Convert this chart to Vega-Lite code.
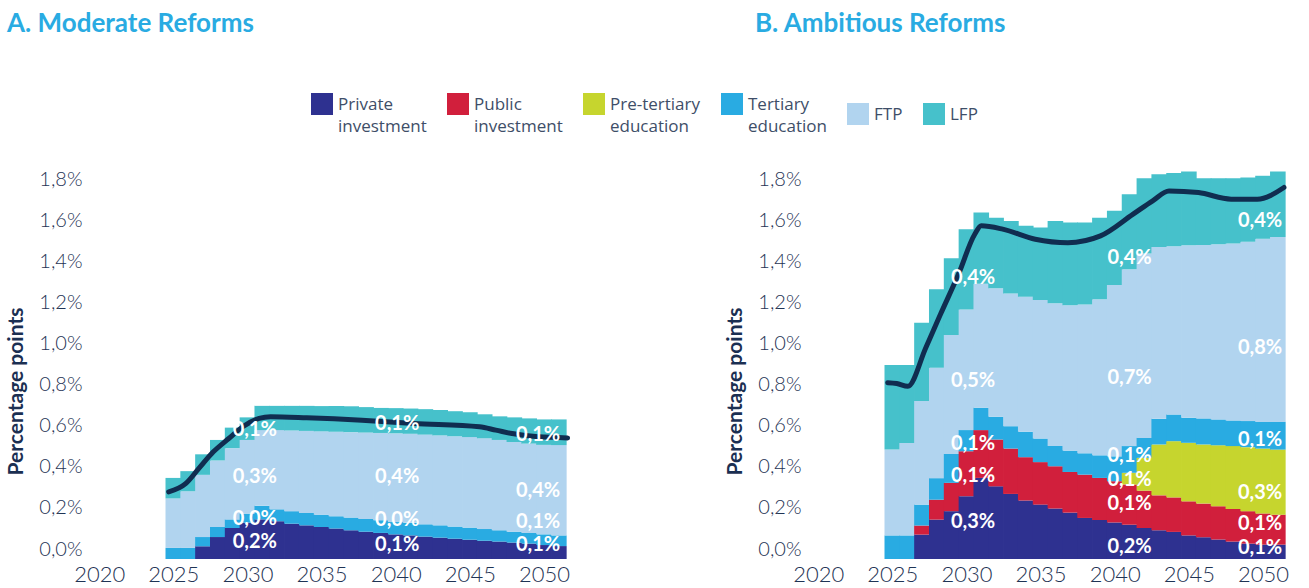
{
  "$schema": "https://vega.github.io/schema/vega-lite/v6.json",
  "padding": {"left": 5, "top": 11, "right": 5, "bottom": 0},
  "background": "white",
  "datasets": {
    "order": [
      {"series": "Private investment", "o": 1},
      {"series": "Public investment", "o": 2},
      {"series": "Pre-tertiary education", "o": 3},
      {"series": "Tertiary education", "o": 4},
      {"series": "FTP", "o": 5},
      {"series": "LFP", "o": 6}
    ],
    "barsA": [
      {"year": 2025, "Private investment": 0, "Public investment": 0, "Pre-tertiary education": 0, "Tertiary education": 0.054, "FTP": 0.241, "LFP": 0.100},
      {"year": 2026, "Private investment": 0, "Public investment": 0, "Pre-tertiary education": 0, "Tertiary education": 0.054, "FTP": 0.276, "LFP": 0.098},
      {"year": 2027, "Private investment": 0.062, "Public investment": 0, "Pre-tertiary education": 0, "Tertiary education": 0.045, "FTP": 0.303, "LFP": 0.100},
      {"year": 2028, "Private investment": 0.107, "Public investment": 0, "Pre-tertiary education": 0, "Tertiary education": 0.049, "FTP": 0.324, "LFP": 0.100},
      {"year": 2029, "Private investment": 0.151, "Public investment": 0, "Pre-tertiary education": 0, "Tertiary education": 0.042, "FTP": 0.347, "LFP": 0.100},
      {"year": 2030, "Private investment": 0.177, "Public investment": 0, "Pre-tertiary education": 0, "Tertiary education": 0.044, "FTP": 0.359, "LFP": 0.110},
      {"year": 2031, "Private investment": 0.193, "Public investment": 0, "Pre-tertiary education": 0, "Tertiary education": 0.066, "FTP": 0.369, "LFP": 0.118},
      {"year": 2032, "Private investment": 0.184, "Public investment": 0, "Pre-tertiary education": 0, "Tertiary education": 0.058, "FTP": 0.386, "LFP": 0.118},
      {"year": 2033, "Private investment": 0.172, "Public investment": 0, "Pre-tertiary education": 0, "Tertiary education": 0.061, "FTP": 0.393, "LFP": 0.120},
      {"year": 2034, "Private investment": 0.164, "Public investment": 0, "Pre-tertiary education": 0, "Tertiary education": 0.060, "FTP": 0.400, "LFP": 0.122},
      {"year": 2035, "Private investment": 0.156, "Public investment": 0, "Pre-tertiary education": 0, "Tertiary education": 0.060, "FTP": 0.406, "LFP": 0.123},
      {"year": 2036, "Private investment": 0.148, "Public investment": 0, "Pre-tertiary education": 0, "Tertiary education": 0.060, "FTP": 0.412, "LFP": 0.125},
      {"year": 2037, "Private investment": 0.140, "Public investment": 0, "Pre-tertiary education": 0, "Tertiary education": 0.062, "FTP": 0.416, "LFP": 0.126},
      {"year": 2038, "Private investment": 0.133, "Public investment": 0, "Pre-tertiary education": 0, "Tertiary education": 0.062, "FTP": 0.421, "LFP": 0.124},
      {"year": 2039, "Private investment": 0.127, "Public investment": 0, "Pre-tertiary education": 0, "Tertiary education": 0.062, "FTP": 0.425, "LFP": 0.122},
      {"year": 2040, "Private investment": 0.120, "Public investment": 0, "Pre-tertiary education": 0, "Tertiary education": 0.060, "FTP": 0.432, "LFP": 0.123},
      {"year": 2041, "Private investment": 0.115, "Public investment": 0, "Pre-tertiary education": 0, "Tertiary education": 0.061, "FTP": 0.434, "LFP": 0.123},
      {"year": 2042, "Private investment": 0.109, "Public investment": 0, "Pre-tertiary education": 0, "Tertiary education": 0.060, "FTP": 0.437, "LFP": 0.124},
      {"year": 2043, "Private investment": 0.104, "Public investment": 0, "Pre-tertiary education": 0, "Tertiary education": 0.060, "FTP": 0.438, "LFP": 0.124},
      {"year": 2044, "Private investment": 0.099, "Public investment": 0, "Pre-tertiary education": 0, "Tertiary education": 0.059, "FTP": 0.440, "LFP": 0.122},
      {"year": 2045, "Private investment": 0.094, "Public investment": 0, "Pre-tertiary education": 0, "Tertiary education": 0.059, "FTP": 0.441, "LFP": 0.121},
      {"year": 2046, "Private investment": 0.089, "Public investment": 0, "Pre-tertiary education": 0, "Tertiary education": 0.057, "FTP": 0.442, "LFP": 0.117},
      {"year": 2047, "Private investment": 0.085, "Public investment": 0, "Pre-tertiary education": 0, "Tertiary education": 0.055, "FTP": 0.440, "LFP": 0.115},
      {"year": 2048, "Private investment": 0.080, "Public investment": 0, "Pre-tertiary education": 0, "Tertiary education": 0.053, "FTP": 0.437, "LFP": 0.120},
      {"year": 2049, "Private investment": 0.075, "Public investment": 0, "Pre-tertiary education": 0, "Tertiary education": 0.052, "FTP": 0.435, "LFP": 0.123},
      {"year": 2050, "Private investment": 0.068, "Public investment": 0, "Pre-tertiary education": 0, "Tertiary education": 0.052, "FTP": 0.436, "LFP": 0.124},
      {"year": 2051, "Private investment": 0.063, "Public investment": 0, "Pre-tertiary education": 0, "Tertiary education": 0.052, "FTP": 0.440, "LFP": 0.125}
    ],
    "barsB": [
      {"year": 2025, "Private investment": 0, "Public investment": 0, "Pre-tertiary education": 0, "Tertiary education": 0.115, "FTP": 0.418, "LFP": 0.412},
      {"year": 2026, "Private investment": 0, "Public investment": 0, "Pre-tertiary education": 0, "Tertiary education": 0.115, "FTP": 0.450, "LFP": 0.380},
      {"year": 2027, "Private investment": 0.119, "Public investment": 0.044, "Pre-tertiary education": 0, "Tertiary education": 0.102, "FTP": 0.505, "LFP": 0.381},
      {"year": 2028, "Private investment": 0.192, "Public investment": 0.097, "Pre-tertiary education": 0, "Tertiary education": 0.105, "FTP": 0.538, "LFP": 0.382},
      {"year": 2029, "Private investment": 0.233, "Public investment": 0.138, "Pre-tertiary education": 0, "Tertiary education": 0.141, "FTP": 0.579, "LFP": 0.374},
      {"year": 2030, "Private investment": 0.306, "Public investment": 0.219, "Pre-tertiary education": 0, "Tertiary education": 0.103, "FTP": 0.588, "LFP": 0.391},
      {"year": 2031, "Private investment": 0.395, "Public investment": 0.233, "Pre-tertiary education": 0, "Tertiary education": 0.109, "FTP": 0.604, "LFP": 0.347},
      {"year": 2032, "Private investment": 0.354, "Public investment": 0.228, "Pre-tertiary education": 0, "Tertiary education": 0.111, "FTP": 0.626, "LFP": 0.344},
      {"year": 2033, "Private investment": 0.317, "Public investment": 0.221, "Pre-tertiary education": 0, "Tertiary education": 0.109, "FTP": 0.647, "LFP": 0.353},
      {"year": 2034, "Private investment": 0.285, "Public investment": 0.211, "Pre-tertiary education": 0, "Tertiary education": 0.124, "FTP": 0.658, "LFP": 0.345},
      {"year": 2035, "Private investment": 0.265, "Public investment": 0.207, "Pre-tertiary education": 0, "Tertiary education": 0.115, "FTP": 0.675, "LFP": 0.353},
      {"year": 2036, "Private investment": 0.246, "Public investment": 0.206, "Pre-tertiary education": 0, "Tertiary education": 0.098, "FTP": 0.696, "LFP": 0.401},
      {"year": 2037, "Private investment": 0.226, "Public investment": 0.198, "Pre-tertiary education": 0, "Tertiary education": 0.104, "FTP": 0.708, "LFP": 0.403},
      {"year": 2038, "Private investment": 0.200, "Public investment": 0.211, "Pre-tertiary education": 0, "Tertiary education": 0.104, "FTP": 0.725, "LFP": 0.399},
      {"year": 2039, "Private investment": 0.190, "Public investment": 0.205, "Pre-tertiary education": 0, "Tertiary education": 0.110, "FTP": 0.760, "LFP": 0.398},
      {"year": 2040, "Private investment": 0.178, "Public investment": 0.201, "Pre-tertiary education": 0, "Tertiary education": 0.121, "FTP": 0.835, "LFP": 0.361},
      {"year": 2041, "Private investment": 0.167, "Public investment": 0.196, "Pre-tertiary education": 0.057, "Tertiary education": 0.130, "FTP": 0.861, "LFP": 0.366},
      {"year": 2042, "Private investment": 0.151, "Public investment": 0.182, "Pre-tertiary education": 0.160, "Tertiary education": 0.097, "FTP": 0.898, "LFP": 0.367},
      {"year": 2043, "Private investment": 0.140, "Public investment": 0.170, "Pre-tertiary education": 0.248, "Tertiary education": 0.125, "FTP": 0.837, "LFP": 0.355},
      {"year": 2044, "Private investment": 0.132, "Public investment": 0.168, "Pre-tertiary education": 0.274, "Tertiary education": 0.130, "FTP": 0.820, "LFP": 0.357},
      {"year": 2045, "Private investment": 0.115, "Public investment": 0.166, "Pre-tertiary education": 0.285, "Tertiary education": 0.122, "FTP": 0.840, "LFP": 0.360},
      {"year": 2046, "Private investment": 0.106, "Public investment": 0.164, "Pre-tertiary education": 0.288, "Tertiary education": 0.127, "FTP": 0.845, "LFP": 0.325},
      {"year": 2047, "Private investment": 0.095, "Public investment": 0.162, "Pre-tertiary education": 0.297, "Tertiary education": 0.126, "FTP": 0.853, "LFP": 0.322},
      {"year": 2048, "Private investment": 0.085, "Public investment": 0.159, "Pre-tertiary education": 0.306, "Tertiary education": 0.125, "FTP": 0.862, "LFP": 0.318},
      {"year": 2049, "Private investment": 0.075, "Public investment": 0.158, "Pre-tertiary education": 0.312, "Tertiary education": 0.127, "FTP": 0.874, "LFP": 0.313},
      {"year": 2050, "Private investment": 0.070, "Public investment": 0.152, "Pre-tertiary education": 0.316, "Tertiary education": 0.130, "FTP": 0.892, "LFP": 0.307},
      {"year": 2051, "Private investment": 0.070, "Public investment": 0.146, "Pre-tertiary education": 0.317, "Tertiary education": 0.135, "FTP": 0.901, "LFP": 0.319}
    ],
    "lineA": [
      {"x": 2024.69, "y": 0.327}, {"x": 2025.83, "y": 0.367}, {"x": 2026.71, "y": 0.44},
      {"x": 2027.7, "y": 0.522}, {"x": 2028.74, "y": 0.587}, {"x": 2029.68, "y": 0.644},
      {"x": 2030.79, "y": 0.685}, {"x": 2031.56, "y": 0.693}, {"x": 2034.0, "y": 0.688},
      {"x": 2037.72, "y": 0.676}, {"x": 2041.24, "y": 0.66}, {"x": 2045.65, "y": 0.644},
      {"x": 2046.75, "y": 0.628}, {"x": 2047.85, "y": 0.611}, {"x": 2049.61, "y": 0.595},
      {"x": 2051.59, "y": 0.59}
    ],
    "lineB": [
      {"x": 2024.69, "y": 0.859}, {"x": 2025.3, "y": 0.855}, {"x": 2026.05, "y": 0.842},
      {"x": 2027.26, "y": 1.029}, {"x": 2028.25, "y": 1.192}, {"x": 2029.46, "y": 1.387},
      {"x": 2030.56, "y": 1.582}, {"x": 2031.0, "y": 1.623}, {"x": 2032.44, "y": 1.607},
      {"x": 2034.64, "y": 1.558}, {"x": 2036.84, "y": 1.541}, {"x": 2039.04, "y": 1.574},
      {"x": 2041.24, "y": 1.68}, {"x": 2042.56, "y": 1.745}, {"x": 2043.66, "y": 1.793},
      {"x": 2045.65, "y": 1.785}, {"x": 2047.85, "y": 1.753}, {"x": 2049.61, "y": 1.753},
      {"x": 2051.41, "y": 1.81}
    ],
    "labelsA": [
      {"x": 2030.5, "y": 0.629, "t": "0,1%"}, {"x": 2030.5, "y": 0.4, "t": "0,3%"},
      {"x": 2030.5, "y": 0.195, "t": "0,0%"}, {"x": 2030.5, "y": 0.083, "t": "0,2%"},
      {"x": 2040.1, "y": 0.659, "t": "0,1%"}, {"x": 2040.1, "y": 0.4, "t": "0,4%"},
      {"x": 2040.1, "y": 0.19, "t": "0,0%"}, {"x": 2040.1, "y": 0.068, "t": "0,1%"},
      {"x": 2049.6, "y": 0.605, "t": "0,1%"}, {"x": 2049.6, "y": 0.332, "t": "0,4%"},
      {"x": 2049.6, "y": 0.18, "t": "0,1%"}, {"x": 2049.6, "y": 0.068, "t": "0,1%"}
    ],
    "labelsB": [
      {"x": 2030.45, "y": 1.367, "t": "0,4%"}, {"x": 2030.45, "y": 0.868, "t": "0,5%"},
      {"x": 2030.45, "y": 0.558, "t": "0,1%"}, {"x": 2030.45, "y": 0.403, "t": "0,1%"},
      {"x": 2030.45, "y": 0.18, "t": "0,3%"},
      {"x": 2041.0, "y": 1.468, "t": "0,4%"}, {"x": 2041.0, "y": 0.883, "t": "0,7%"},
      {"x": 2041.0, "y": 0.501, "t": "0,1%"}, {"x": 2041.0, "y": 0.387, "t": "0,1%"},
      {"x": 2041.0, "y": 0.268, "t": "0,1%"}, {"x": 2041.0, "y": 0.059, "t": "0,2%"},
      {"x": 2049.8, "y": 1.647, "t": "0,4%"}, {"x": 2049.8, "y": 1.029, "t": "0,8%"},
      {"x": 2049.8, "y": 0.582, "t": "0,1%"}, {"x": 2049.8, "y": 0.322, "t": "0,3%"},
      {"x": 2049.8, "y": 0.172, "t": "0,1%"}, {"x": 2049.8, "y": 0.055, "t": "0,1%"}
    ]
  },
  "spacing": 146,
  "resolve": {"scale": {"color": "shared", "x": "independent", "y": "independent"}},
  "hconcat": [
    {
      "title": {"text": "A. Moderate Reforms", "anchor": "start", "frame": "group", "dx": -79, "offset": 132, "font": "Lato", "fontSize": 26, "fontWeight": "bold", "color": "#29abe2"},
      "width": 486,
      "height": 390,
      "layer": [
        {
          "data": {"name": "barsA"},
          "transform": [
            {"fold": ["Private investment", "Public investment", "Pre-tertiary education", "Tertiary education", "FTP", "LFP"], "as": ["series", "value"]},
            {"lookup": "series", "from": {"data": {"name": "order"}, "key": "series", "fields": ["o"]}}
          ],
          "mark": {"type": "bar", "width": 15.6, "orient": "vertical"},
          "encoding": {
            "x": {"field": "year", "type": "quantitative", "title": null,
                  "scale": {"domain": [2019.45, 2051.55], "nice": false, "zero": false},
                  "axis": {"values": [2020, 2025, 2030, 2035, 2040, 2045, 2050], "format": "d", "labelFont": "Lato", "labelFontSize": 22, "labelFontWeight": 300, "labelColor": "#1f3455", "labelPadding": 5, "ticks": false, "domain": false, "grid": false, "labelFlush": false, "labelOverlap": false, "labelBound": false}},
            "y": {"field": "value", "type": "quantitative", "stack": "zero", "title": "Percentage points",
                  "scale": {"domain": [0, 1.9], "nice": false},
                  "axis": {"values": [0, 0.2, 0.4, 0.6, 0.8, 1.0, 1.2, 1.4, 1.6, 1.8], "labelExpr": "replace(format(datum.value, '.1f'), '.', ',') + '%'", "labelFont": "Lato", "labelFontSize": 20, "labelFontWeight": 300, "labelColor": "#1f3455", "labelOffset": -10, "labelPadding": 4, "ticks": false, "domain": false, "grid": false, "labelFlush": false, "labelOverlap": false, "labelBound": false, "titleFont": "Lato", "titleFontSize": 21, "titleFontWeight": "bold", "titleColor": "#1b2f52", "titlePadding": 12, "titleY": 222}},
            "color": {"field": "series", "type": "nominal",
                      "scale": {"domain": ["Private investment", "Public investment", "Pre-tertiary education", "Tertiary education", "FTP", "LFP"], "range": ["#2e3190", "#d11f3c", "#c6d52e", "#29abe2", "#b1d4ef", "#46c1cb"]},
                      "legend": {"orient": "none", "legendX": 225, "legendY": -76, "direction": "horizontal", "title": null, "symbolType": "square", "symbolSize": 484, "symbolStrokeWidth": 0, "labelFont": "Open Sans", "labelFontSize": 17, "labelColor": "#3e4e68", "labelExpr": "split(datum.label, ' ')", "labelBaseline": "top", "columnPadding": 20, "labelOffset": 5, "labelLimit": 200, "padding": 0,
                                 "encode": {"labels": {"update": {"lineHeight": {"value": 22}, "dy": {"value": -7}}}}}},
            "order": {"field": "o", "type": "quantitative", "sort": "ascending"}
          }
        },
        {
          "data": {"name": "lineA"},
          "mark": {"type": "line", "interpolate": "monotone", "strokeWidth": 5, "color": "#102d50", "strokeCap": "round"},
          "encoding": {
            "x": {"field": "x", "type": "quantitative", "title": null},
            "y": {"field": "y", "type": "quantitative", "title": "Percentage points"}
          }
        },
        {
          "data": {"name": "labelsA"},
          "mark": {"type": "text", "font": "Lato", "fontSize": 20, "fontWeight": "bold", "color": "white", "align": "center", "baseline": "middle"},
          "encoding": {
            "x": {"field": "x", "type": "quantitative", "title": null},
            "y": {"field": "y", "type": "quantitative", "title": "Percentage points"},
            "text": {"field": "t", "type": "nominal"}
          }
        }
      ]
    },
    {
      "title": {"text": "B. Ambitious Reforms", "anchor": "start", "frame": "group", "dx": -50, "offset": 132, "font": "Lato", "fontSize": 26, "fontWeight": "bold", "color": "#29abe2"},
      "width": 486,
      "height": 390,
      "layer": [
        {
          "data": {"name": "barsB"},
          "transform": [
            {"fold": ["Private investment", "Public investment", "Pre-tertiary education", "Tertiary education", "FTP", "LFP"], "as": ["series", "value"]},
            {"lookup": "series", "from": {"data": {"name": "order"}, "key": "series", "fields": ["o"]}}
          ],
          "mark": {"type": "bar", "width": 15.6, "orient": "vertical"},
          "encoding": {
            "x": {"field": "year", "type": "quantitative", "title": null,
                  "scale": {"domain": [2019.45, 2051.55], "nice": false, "zero": false},
                  "axis": {"values": [2020, 2025, 2030, 2035, 2040, 2045, 2050], "format": "d", "labelFont": "Lato", "labelFontSize": 22, "labelFontWeight": 300, "labelColor": "#1f3455", "labelPadding": 5, "ticks": false, "domain": false, "grid": false, "labelFlush": false, "labelOverlap": false, "labelBound": false}},
            "y": {"field": "value", "type": "quantitative", "stack": "zero", "title": "Percentage points",
                  "scale": {"domain": [0, 1.9], "nice": false},
                  "axis": {"values": [0, 0.2, 0.4, 0.6, 0.8, 1.0, 1.2, 1.4, 1.6, 1.8], "labelExpr": "replace(format(datum.value, '.1f'), '.', ',') + '%'", "labelFont": "Lato", "labelFontSize": 20, "labelFontWeight": 300, "labelColor": "#1f3455", "labelOffset": -10, "labelPadding": 4, "ticks": false, "domain": false, "grid": false, "labelFlush": false, "labelOverlap": false, "labelBound": false, "titleFont": "Lato", "titleFontSize": 21, "titleFontWeight": "bold", "titleColor": "#1b2f52", "titlePadding": 12, "titleY": 222}},
            "color": {"field": "series", "type": "nominal",
                      "scale": {"domain": ["Private investment", "Public investment", "Pre-tertiary education", "Tertiary education", "FTP", "LFP"], "range": ["#2e3190", "#d11f3c", "#c6d52e", "#29abe2", "#b1d4ef", "#46c1cb"]},
                      "legend": {"orient": "none", "legendX": 225, "legendY": -76, "direction": "horizontal", "title": null, "symbolType": "square", "symbolSize": 484, "symbolStrokeWidth": 0, "labelFont": "Open Sans", "labelFontSize": 17, "labelColor": "#3e4e68", "labelExpr": "split(datum.label, ' ')", "labelBaseline": "top", "columnPadding": 20, "labelOffset": 5, "labelLimit": 200, "padding": 0,
                                 "encode": {"labels": {"update": {"lineHeight": {"value": 22}, "dy": {"value": -7}}}}}},
            "order": {"field": "o", "type": "quantitative", "sort": "ascending"}
          }
        },
        {
          "data": {"name": "lineB"},
          "mark": {"type": "line", "interpolate": "monotone", "strokeWidth": 5, "color": "#102d50", "strokeCap": "round"},
          "encoding": {
            "x": {"field": "x", "type": "quantitative", "title": null},
            "y": {"field": "y", "type": "quantitative", "title": "Percentage points"}
          }
        },
        {
          "data": {"name": "labelsB"},
          "mark": {"type": "text", "font": "Lato", "fontSize": 20, "fontWeight": "bold", "color": "white", "align": "center", "baseline": "middle"},
          "encoding": {
            "x": {"field": "x", "type": "quantitative", "title": null},
            "y": {"field": "y", "type": "quantitative", "title": "Percentage points"},
            "text": {"field": "t", "type": "nominal"}
          }
        }
      ]
    }
  ],
  "config": {
    "view": {"stroke": null},
    "font": "Lato"
  }
}
